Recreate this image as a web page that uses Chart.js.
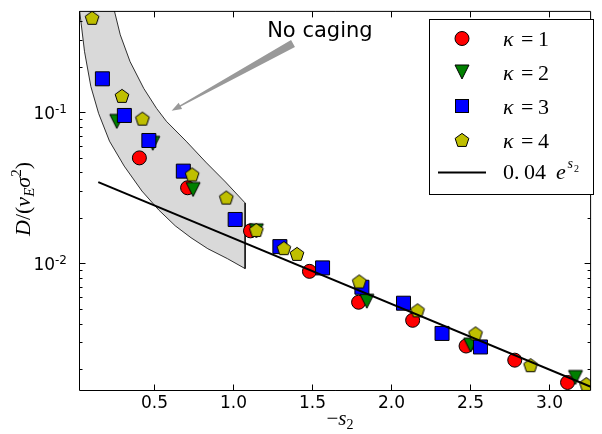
<!DOCTYPE html>
<html>
<head>
<meta charset="utf-8">
<script src="https://cdn.jsdelivr.net/npm/chart.js@4.4.0/dist/chart.umd.min.js"></script>
<style>
  html, body { margin: 0; padding: 0; background: #fff; }
  canvas { display: block; }
</style>
</head>
<body>
<canvas id="chart" width="602" height="434"></canvas>
<script>
// values: x = -s2, y = D/(nu_E sigma^2)
const k1X = [0.41, 0.715, 1.113, 1.486, 1.797, 2.139, 2.477, 2.785, 3.119];
const k1Y = [0.0498, 0.0316, 0.0164, 0.00885, 0.00553, 0.0042, 0.00284, 0.00229, 0.00163];

const k2X = [0.267, 0.495, 0.75, 1.15, 1.849, 2.506, 3.169];
const k2Y = [0.0868, 0.0622, 0.0308, 0.0164, 0.00562, 0.00288, 0.00176];

const k3X = [0.176, 0.315, 0.47, 0.688, 1.016, 1.299, 1.569, 1.818, 2.081, 2.325, 2.568];
const k3Y = [0.166, 0.095, 0.0649, 0.0407, 0.0195, 0.0129, 0.00933, 0.00695, 0.00545, 0.00344, 0.0028];

const k4X = [0.111, 0.3, 0.429, 0.744, 0.96, 1.15, 1.324, 1.407, 1.801, 2.17, 2.537, 2.885, 3.238];
const k4Y = [0.42, 0.128, 0.0905, 0.0387, 0.0272, 0.0166, 0.0126, 0.01154, 0.00759, 0.00489, 0.00344, 0.00212, 0.00159];

// 0.04 e^{s2} fit, end points
const fitX = [0.15, 3.27];
const fitY = [0.0344, 0.00152];

// "no caging" band: upper edge top->right, then lower edge right->top
const bandX = [0.239, 0.252, 0.289, 0.351, 0.438, 0.519, 0.581, 0.706, 0.830, 0.955, 1.079,
               1.079, 0.967, 0.843, 0.737, 0.637, 0.532, 0.426, 0.314, 0.221, 0.152, 0.103, 0.063, 0.032, 0.025];
const bandY = [0.535, 0.4667, 0.3245, 0.2157, 0.1432, 0.1057, 0.0869, 0.0642, 0.0467, 0.0345, 0.02507,
               0.00923, 0.01074, 0.01249, 0.01476, 0.0177, 0.02256, 0.03008, 0.04393, 0.0642, 0.098, 0.1476, 0.2507, 0.4667, 0.535];

const xTicks = [0.5, 1.0, 1.5, 2.0, 2.5, 3.0];
const xTickLabels = ['0.5', '1.0', '1.5', '2.0', '2.5', '3.0'];
const yTicks = [0.01, 0.1];
const yTickExp = ['-2', '-1'];

const arrowHead = [0.614, 0.1021];
const arrowTail = [1.382, 0.2844];
const notePos = [1.552, 0.315];

const SERIF = '"Liberation Serif", "DejaVu Serif", serif';
const SANS = '"DejaVu Sans", sans-serif';

function pts(xs, ys) {
  return xs.map((x, i) => ({ x: x, y: ys[i] }));
}

function makeTriangle() {
  const c = document.createElement('canvas');
  c.width = 18; c.height = 18;
  const g = c.getContext('2d');
  g.beginPath();
  g.moveTo(2, 2); g.lineTo(16, 2); g.lineTo(9, 16); g.closePath();
  g.fillStyle = '#008000'; g.fill();
  g.strokeStyle = '#000'; g.lineWidth = 1; g.stroke();
  return c;
}

function makePentagon() {
  const c = document.createElement('canvas');
  c.width = 18; c.height = 18;
  const g = c.getContext('2d');
  const R = 7.2;
  g.beginPath();
  for (let k = 0; k < 5; k++) {
    const ang = -Math.PI / 2 + k * 2 * Math.PI / 5;
    const px = 9 + R * Math.cos(ang), py = 9.6 + R * Math.sin(ang);
    if (k === 0) g.moveTo(px, py); else g.lineTo(px, py);
  }
  g.closePath();
  g.fillStyle = '#bfbf00'; g.fill();
  g.strokeStyle = '#000'; g.lineWidth = 1; g.stroke();
  return c;
}

const triImg = makeTriangle();
const pentImg = makePentagon();

// draw a row of text pieces [text, font, dy]
function drawRuns(ctx, runs, x, y, center) {
  let total = 0;
  runs.forEach(r => { ctx.font = r[1]; total += ctx.measureText(r[0]).width; });
  let cx = center ? x - total / 2 : x;
  runs.forEach(r => {
    ctx.font = r[1];
    ctx.fillText(r[0], cx, y + (r[2] || 0));
    cx += ctx.measureText(r[0]).width;
  });
}

const decor = {
  id: 'decor',
  afterDraw(chart) {
    const ctx = chart.ctx;
    const a = chart.chartArea;
    const xs = chart.scales.x, ys = chart.scales.y;
    ctx.save();
    ctx.strokeStyle = '#000';
    ctx.fillStyle = '#000';
    ctx.lineWidth = 1;

    function seg(x1, y1, x2, y2) {
      ctx.beginPath(); ctx.moveTo(x1, y1); ctx.lineTo(x2, y2); ctx.stroke();
    }

    // frame
    const L = a.left + 0.5, R = a.right - 0.5, T = a.top + 0.5, B = a.bottom + 0.5;
    ctx.beginPath();
    ctx.moveTo(L, T); ctx.lineTo(R, T); ctx.lineTo(R, B); ctx.lineTo(L, B); ctx.closePath();
    ctx.stroke();

    // x ticks, inward on bottom and top
    ctx.textAlign = 'center';
    ctx.textBaseline = 'alphabetic';
    xTicks.forEach((v, i) => {
      const px = Math.round(xs.getPixelForValue(v)) + 0.5;
      seg(px, B, px, B - 6);
      seg(px, T, px, T + 6);
      ctx.font = '17px ' + SANS;
      ctx.fillText(xTickLabels[i], px, 408);
    });

    // y minor ticks
    for (let e = -3; e <= -1; e++) {
      for (let m = 2; m <= 9; m++) {
        const v = m * Math.pow(10, e);
        if (v < ys.min || v > ys.max) continue;
        const py = Math.round(ys.getPixelForValue(v)) + 0.5;
        seg(L, py, L + 3, py);
        seg(R, py, R - 3, py);
      }
    }
    // y major ticks + labels
    ctx.textAlign = 'left';
    yTicks.forEach((v, i) => {
      const py = Math.round(ys.getPixelForValue(v)) + 0.5;
      seg(L, py, L + 6, py);
      seg(R, py, R - 6, py);
      ctx.font = '12px ' + SANS;
      const wExp = ctx.measureText(yTickExp[i]).width;
      ctx.font = '17px ' + SANS;
      const wTen = ctx.measureText('10').width;
      const right = 67;
      ctx.fillText('10', right - wExp - wTen, py + 6);
      ctx.font = '12px ' + SANS;
      ctx.fillText(yTickExp[i], right - wExp, py + 0.5);
    });

    // x title
    drawRuns(ctx, [
      ['\u2212', '21px ' + SERIF, 0],
      ['s', 'italic 21px ' + SERIF, 0],
      ['2', '14px ' + SERIF, 4]
    ], 340, 425, true);

    // y title, rotated
    ctx.save();
    ctx.translate(30, 199);
    ctx.rotate(-Math.PI / 2);
    drawRuns(ctx, [
      ['D', 'italic 22px ' + SERIF, 0],
      ['/', '22px ' + SERIF, 0],
      ['(', '22px ' + SERIF, 0],
      ['\u03bd', 'italic 22px ' + SERIF, 0],
      ['E', 'italic 15px ' + SERIF, 4],
      ['\u03c3', 'italic 22px ' + SERIF, 0],
      ['2', '15px ' + SERIF, -9],
      [')', '22px ' + SERIF, 0]
    ], 0, 0, true);
    ctx.restore();

    // annotation arrow
    const hx = xs.getPixelForValue(arrowHead[0]), hy = ys.getPixelForValue(arrowHead[1]);
    const tx = xs.getPixelForValue(arrowTail[0]), ty = ys.getPixelForValue(arrowTail[1]);
    const dx = hx - tx, dy = hy - ty, len = Math.hypot(dx, dy);
    const ux = dx / len, uy = dy / len, nx = -uy, ny = ux;
    const headLen = 10, headW = 3.5, tailW = 4, neckW = 0.8;
    const bx = hx - ux * headLen, by = hy - uy * headLen;
    ctx.fillStyle = '#999999';
    ctx.beginPath();
    ctx.moveTo(tx + nx * tailW, ty + ny * tailW);
    ctx.lineTo(bx + nx * neckW, by + ny * neckW);
    ctx.lineTo(bx + nx * headW, by + ny * headW);
    ctx.lineTo(hx, hy);
    ctx.lineTo(bx - nx * headW, by - ny * headW);
    ctx.lineTo(bx - nx * neckW, by - ny * neckW);
    ctx.lineTo(tx - nx * tailW, ty - ny * tailW);
    ctx.closePath();
    ctx.fill();

    ctx.fillStyle = '#000';
    ctx.textAlign = 'center';
    ctx.font = '21px ' + SANS;
    ctx.fillText('No caging', xs.getPixelForValue(notePos[0]), ys.getPixelForValue(notePos[1]));

    // legend
    ctx.textAlign = 'left';
    ctx.fillStyle = '#fff';
    ctx.fillRect(429.5, 19.5, 164, 175);
    ctx.strokeStyle = '#000';
    ctx.strokeRect(429.5, 19.5, 164, 175);

    const mx = 462;
    ctx.beginPath();
    ctx.arc(mx, 38.5, 7, 0, Math.PI * 2);
    ctx.fillStyle = '#ff0000'; ctx.fill(); ctx.stroke();
    ctx.drawImage(triImg, mx - 9, 72 - 9);
    ctx.fillStyle = '#0000ff';
    ctx.fillRect(mx - 7, 106 - 7, 14, 14);
    ctx.strokeRect(mx - 7 + 0.5, 106 - 7 + 0.5, 13, 13);
    ctx.drawImage(pentImg, mx - 9, 140 - 9);
    ctx.lineWidth = 2;
    seg(438, 172.5, 486, 172.5);

    ctx.fillStyle = '#000';
    const rows = [38.5, 72, 106, 140];
    ['1', '2', '3', '4'].forEach((n, i) => {
      const by2 = rows[i] + 7.5;
      ctx.font = 'italic 22px ' + SERIF;
      ctx.fillText('\u03ba', 503, by2);
      ctx.font = '22px ' + SERIF;
      ctx.fillText('=', 521, by2);
      ctx.fillText(n, 538, by2);
    });
    ctx.font = '22px ' + SERIF;
    ctx.fillText('0.', 503, 178.5);
    ctx.fillText('04', 524, 178.5);
    ctx.font = 'italic 22px ' + SERIF;
    ctx.fillText('e', 556, 178.5);
    ctx.font = 'italic 14px ' + SERIF;
    ctx.fillText('s', 567.5, 168);
    ctx.font = '10px ' + SERIF;
    ctx.fillText('2', 574, 172);

    ctx.restore();
  }
};

new Chart(document.getElementById('chart'), {
  type: 'scatter',
  data: {
    datasets: [
      {
        label: 'band',
        data: pts(bandX, bandY),
        showLine: true,
        pointRadius: 0,
        borderColor: '#000',
        borderWidth: 0.8,
        backgroundColor: '#d9d9d9',
        fill: 'shape',
        tension: 0,
        order: 10
      },
      {
        label: '\u03ba = 1',
        data: pts(k1X, k1Y),
        pointStyle: 'circle',
        pointRadius: 7,
        backgroundColor: '#ff0000',
        borderColor: '#000',
        borderWidth: 1,
        order: 5
      },
      {
        label: '\u03ba = 2',
        data: pts(k2X, k2Y),
        pointStyle: triImg,
        pointRadius: 7,
        backgroundColor: '#008000',
        borderColor: '#000',
        order: 4
      },
      {
        label: '\u03ba = 3',
        data: pts(k3X, k3Y),
        pointStyle: 'rect',
        pointRadius: 9.9,
        backgroundColor: '#0000ff',
        borderColor: '#000',
        borderWidth: 1,
        order: 3
      },
      {
        label: '\u03ba = 4',
        data: pts(k4X, k4Y),
        pointStyle: pentImg,
        pointRadius: 7,
        backgroundColor: '#bfbf00',
        borderColor: '#000',
        order: 2
      },
      {
        label: '0.04 e^s2',
        data: pts(fitX, fitY),
        showLine: true,
        pointRadius: 0,
        borderColor: '#000',
        borderWidth: 2,
        fill: false,
        order: 1
      }
    ]
  },
  options: {
    responsive: false,
    animation: false,
    events: [],
    layout: { padding: { left: 79, top: 9, right: 2, bottom: 44 } },
    plugins: {
      legend: { display: false },
      tooltip: { enabled: false }
    },
    scales: {
      x: { type: 'linear', min: 0.028, max: 3.268, display: false },
      y: { type: 'logarithmic', min: 0.001454, max: 0.4667, display: false }
    }
  },
  plugins: [decor]
});
</script>
</body>
</html>
